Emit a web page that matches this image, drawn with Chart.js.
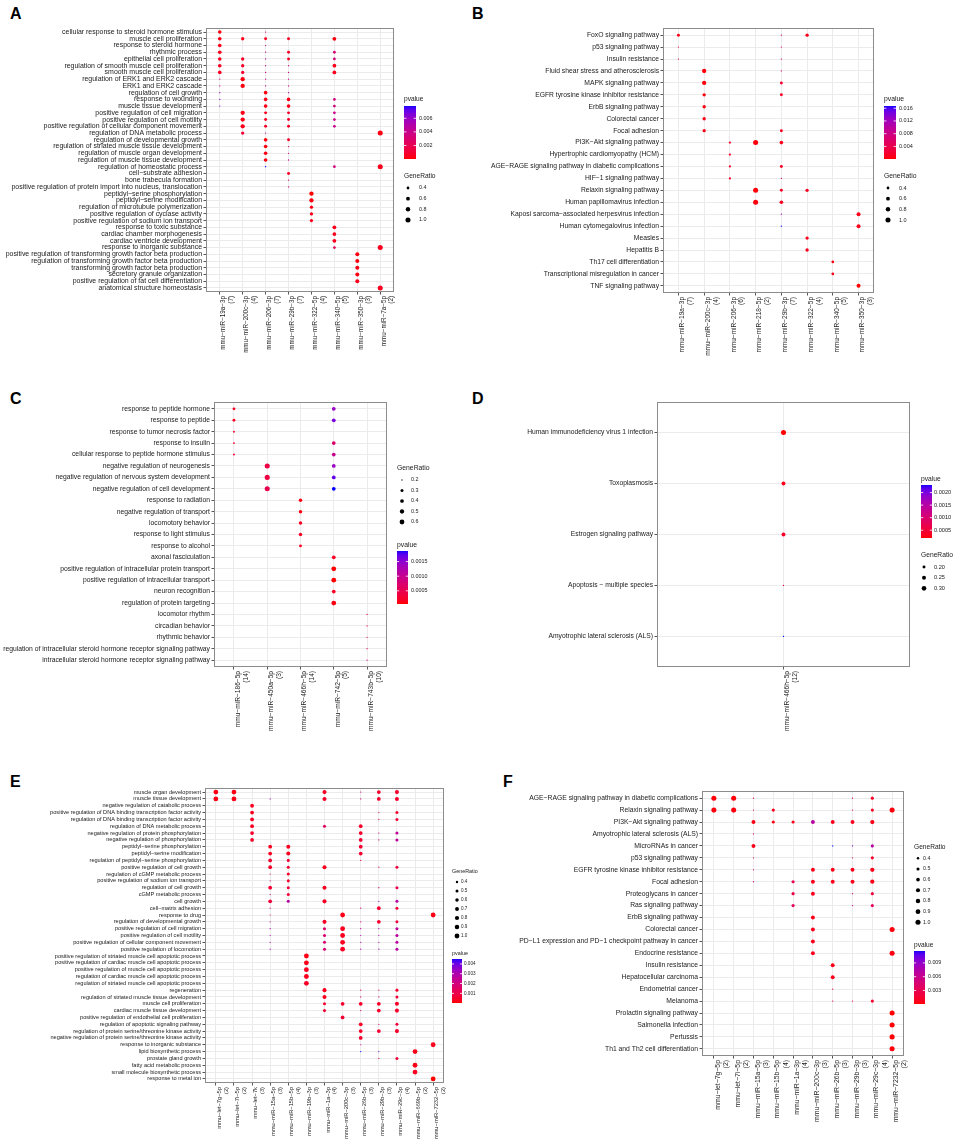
<!DOCTYPE html>
<html><head><meta charset="utf-8">
<script src="https://cdn.jsdelivr.net/npm/chart.js@4.4.1/dist/chart.umd.min.js"></script>
<style>
html,body{margin:0;padding:0;background:#fff;}
body{width:957px;height:1142px;position:relative;overflow:hidden;font-family:"Liberation Sans",Arial,sans-serif;}
canvas{position:absolute;}
.lbl{position:absolute;font-weight:bold;font-size:16px;line-height:16px;color:#000;}
</style></head><body>
<div class="lbl" style="left:10px;top:6px">A</div>
<div class="lbl" style="left:472px;top:6px">B</div>
<div class="lbl" style="left:10px;top:391px">C</div>
<div class="lbl" style="left:472px;top:391px">D</div>
<div class="lbl" style="left:10px;top:774px">E</div>
<div class="lbl" style="left:503px;top:774px">F</div>
<canvas id="cA"></canvas><canvas id="cB"></canvas><canvas id="cC"></canvas>
<canvas id="cD"></canvas><canvas id="cE"></canvas><canvas id="cF"></canvas>
<script>
// ---------------- DATA ----------------
// dots: [termIndex, miRNAIndex, GeneRatio, pvalue]
const A_terms = ["cellular response to steroid hormone stimulus","muscle cell proliferation","response to steroid hormone","rhythmic process","epithelial cell proliferation","regulation of smooth muscle cell proliferation","smooth muscle cell proliferation","regulation of ERK1 and ERK2 cascade","ERK1 and ERK2 cascade","regulation of cell growth","response to wounding","muscle tissue development","positive regulation of cell migration","positive regulation of cell motility","positive regulation of cellular component movement","regulation of DNA metabolic process","regulation of developmental growth","regulation of striated muscle tissue development","regulation of muscle organ development","regulation of muscle tissue development","regulation of homeostatic process","cell−substrate adhesion","bone trabecula formation","positive regulation of protein import into nucleus, translocation","peptidyl−serine phosphorylation","peptidyl−serine modification","regulation of microtubule polymerization","positive regulation of cyclase activity","positive regulation of sodium ion transport","response to toxic substance","cardiac chamber morphogenesis","cardiac ventricle development","response to inorganic substance","positive regulation of transforming growth factor beta production","regulation of transforming growth factor beta production","transforming growth factor beta production","secretory granule organization","positive regulation of fat cell differentiation","anatomical structure homeostasis"];
const A_mirnas = ["mmu−miR−19a−3p","mmu−miR−200c−3p","mmu−miR−206−3p","mmu−miR−29b−3p","mmu−miR−322−5p","mmu−miR−340−5p","mmu−miR−350−3p","mmu−miR−7a−5p"];
const A_counts = [7,4,7,7,4,5,3,2];
const A_dots = [
[0,0,0.571,0.0002],[0,2,0.286,0.0035],
[1,0,0.571,0.0003],[1,1,0.5,0.0004],[1,2,0.429,0.0006],[1,3,0.429,0.0005],[1,5,0.6,0.0002],
[2,0,0.571,0.0003],[2,2,0.286,0.004],
[3,0,0.571,0.0004],[3,2,0.286,0.0042],[3,3,0.429,0.0006],[3,5,0.4,0.0032],
[4,0,0.571,0.0005],[4,1,0.5,0.0007],[4,2,0.286,0.0045],[4,3,0.429,0.0007],[4,5,0.4,0.0035],
[5,0,0.571,0.0006],[5,1,0.5,0.0008],[5,2,0.286,0.0038],[5,3,0.286,0.0035],[5,5,0.6,0.0004],
[6,0,0.571,0.0007],[6,1,0.5,0.0009],[6,2,0.286,0.004],[6,3,0.286,0.0036],[6,5,0.6,0.0005],
[7,0,0.286,0.003],[7,1,0.75,0.0002],[7,2,0.286,0.004],[7,3,0.286,0.0038],
[8,0,0.286,0.0032],[8,1,0.75,0.0002],[8,2,0.286,0.0042],[8,3,0.286,0.004],
[9,0,0.286,0.0055],[9,2,0.571,0.0002],[9,3,0.286,0.005],
[10,0,0.286,0.006],[10,2,0.571,0.0003],[10,3,0.571,0.0004],[10,5,0.4,0.0035],
[11,0,0.286,0.0062],[11,2,0.571,0.0003],[11,3,0.571,0.0004],[11,5,0.4,0.0036],
[12,1,0.75,0.0003],[12,2,0.429,0.0006],[12,3,0.429,0.0007],[12,5,0.4,0.0038],
[13,1,0.75,0.0003],[13,2,0.429,0.0006],[13,3,0.429,0.0007],[13,5,0.4,0.0038],
[14,1,0.75,0.0004],[14,2,0.429,0.0007],[14,3,0.429,0.0008],[14,5,0.4,0.004],
[15,1,0.5,0.0012],[15,2,0.286,0.0045],[15,7,1.0,0.0003],
[16,2,0.571,0.0002],[16,3,0.429,0.0008],
[17,2,0.571,0.0002],[17,3,0.286,0.0035],
[18,2,0.571,0.0003],[18,3,0.286,0.0038],
[19,2,0.571,0.0003],[19,3,0.286,0.004],
[20,2,0.286,0.0078],[20,5,0.4,0.0036],[20,7,1.0,0.0004],
[21,3,0.429,0.0006],[22,3,0.286,0.003],[23,3,0.286,0.0032],
[24,4,0.75,0.00002],[25,4,0.75,0.0002],[26,4,0.5,0.0003],[27,4,0.5,0.0004],[28,4,0.5,0.0005],
[29,5,0.6,0.0003],[30,5,0.6,0.0004],[31,5,0.6,0.0005],
[32,5,0.4,0.0025],[32,7,1.0,0.0005],
[33,6,0.667,0.0002],[34,6,0.667,0.0002],[35,6,0.667,0.0003],[36,6,0.667,0.0003],[37,6,0.667,0.0004],
[38,7,1.0,0.0006]];
const A_pTicks = [0.002,0.004,0.006];
const A_sizeTicks = [0.4,0.6,0.8,1.0];

const B_terms = ["FoxO signaling pathway","p53 signaling pathway","Insulin resistance","Fluid shear stress and atherosclerosis","MAPK signaling pathway","EGFR tyrosine kinase inhibitor resistance","ErbB signaling pathway","Colorectal cancer","Focal adhesion","PI3K−Akt signaling pathway","Hypertrophic cardiomyopathy (HCM)","AGE−RAGE signaling pathway in diabetic complications","HIF−1 signaling pathway","Relaxin signaling pathway","Human papillomavirus infection","Kaposi sarcoma−associated herpesvirus infection","Human cytomegalovirus infection","Measles","Hepatitis B","Th17 cell differentiation","Transcriptional misregulation in cancer","TNF signaling pathway"];
const B_mirnas = ["mmu−miR−19a−3p","mmu−miR−200c−3p","mmu−miR−206−3p","mmu−miR−218−5p","mmu−miR−29b−3p","mmu−miR−322−5p","mmu−miR−340−5p","mmu−miR−350−3p"];
const B_counts = [7,4,6,2,7,4,5,3];
const B_dots = [
[0,0,0.429,0.0006],[0,4,0.286,0.0065],[0,5,0.5,0.0008],
[1,0,0.286,0.006],[1,4,0.286,0.0065],
[2,0,0.286,0.006],[2,4,0.286,0.007],
[3,1,0.75,0.0002],[3,4,0.286,0.0075],
[4,1,0.75,0.0004],[4,4,0.429,0.002],
[5,1,0.5,0.0005],[5,4,0.429,0.0015],
[6,1,0.5,0.0006],[7,1,0.5,0.0008],
[8,1,0.5,0.001],[8,4,0.429,0.0012],
[9,2,0.333,0.0015],[9,3,1.0,0.0003],[9,4,0.571,0.0008],
[10,2,0.333,0.0018],
[11,2,0.333,0.002],[11,4,0.429,0.0015],
[12,2,0.333,0.002],[12,4,0.286,0.0075],
[13,3,1.0,0.0002],[13,4,0.429,0.0015],[13,5,0.5,0.0012],
[14,3,1.0,0.0004],[14,4,0.571,0.0012],
[15,4,0.286,0.011],[15,7,0.667,0.0008],
[16,4,0.286,0.0167],[16,7,0.667,0.001],
[17,5,0.5,0.0008],[18,5,0.5,0.001],
[19,6,0.4,0.0006],[20,6,0.4,0.0012],
[21,7,0.667,0.00005]];
const B_pTicks = [0.004,0.008,0.012,0.016];
const B_sizeTicks = [0.4,0.6,0.8,1.0];

const C_terms = ["response to peptide hormone","response to peptide","response to tumor necrosis factor","response to insulin","cellular response to peptide hormone stimulus","negative regulation of neurogenesis","negative regulation of nervous system development","negative regulation of cell development","response to radiation","negative regulation of transport","locomotory behavior","response to light stimulus","response to alcohol","axonal fasciculation","positive regulation of intracellular protein transport","positive regulation of intracellular transport","neuron recognition","regulation of protein targeting","locomotor rhythm","circadian behavior","rhythmic behavior","regulation of intracellular steroid hormone receptor signaling pathway","intracellular steroid hormone receptor signaling pathway"];
const C_mirnas = ["mmu−miR−186−5p","mmu−miR−450a−5p","mmu−miR−466h−5p","mmu−miR−742−5p","mmu−miR−743b−5p"];
const C_counts = [14,3,14,5,10];
const C_dots = [
[0,0,0.286,0.0002],[0,3,0.4,0.0014],
[1,0,0.286,0.0002],[1,3,0.4,0.0016],
[2,0,0.214,0.0002],
[3,0,0.214,0.0003],[3,3,0.4,0.0007],
[4,0,0.214,0.0003],[4,3,0.4,0.001],
[5,1,0.667,0.0004],[5,3,0.4,0.0014],
[6,1,0.667,0.0004],[6,3,0.4,0.0017],
[7,1,0.667,0.0005],[7,3,0.4,0.00186],
[8,2,0.357,0.0001],[9,2,0.357,0.0001],[10,2,0.357,0.0002],[11,2,0.357,0.0002],[12,2,0.286,0.0002],
[13,3,0.4,0.0002],[14,3,0.6,0.00005],[15,3,0.6,0.00005],[16,3,0.4,0.0002],[17,3,0.6,0.0001],
[18,4,0.2,0.0006],[19,4,0.2,0.0006],[20,4,0.2,0.0007],[21,4,0.2,0.0007],[22,4,0.2,0.0008]];
const C_pTicks = [0.0005,0.0010,0.0015];
const C_sizeTicks = [0.2,0.3,0.4,0.5,0.6];

const D_terms = ["Human immunodeficiency virus 1 infection","Toxoplasmosis","Estrogen signaling pathway","Apoptosis − multiple species","Amyotrophic lateral sclerosis (ALS)"];
const D_mirnas = ["mmu−miR−466h−5p"];
const D_counts = [12];
const D_dots = [[0,0,0.333,0.00019],[1,0,0.25,0.0003],[2,0,0.25,0.0004],[3,0,0.167,0.0008],[4,0,0.167,0.0023]];
const D_pTicks = [0.0005,0.0010,0.0015,0.0020];
const D_sizeTicks = [0.20,0.25,0.30];

const E_terms = ["muscle organ development","muscle tissue development","negative regulation of catabolic process","positive regulation of DNA binding transcription factor activity","regulation of DNA binding transcription factor activity","regulation of DNA metabolic process","negative regulation of protein phosphorylation","negative regulation of phosphorylation","peptidyl−serine phosphorylation","peptidyl−serine modification","regulation of peptidyl−serine phosphorylation","positive regulation of cell growth","regulation of cGMP metabolic process","positive regulation of sodium ion transport","regulation of cell growth","cGMP metabolic process","cell growth","cell−matrix adhesion","response to drug","regulation of developmental growth","positive regulation of cell migration","positive regulation of cell motility","positive regulation of cellular component movement","positive regulation of locomotion","positive regulation of striated muscle cell apoptotic process","positive regulation of cardiac muscle cell apoptotic process","positive regulation of muscle cell apoptotic process","regulation of cardiac muscle cell apoptotic process","regulation of striated muscle cell apoptotic process","regeneration","regulation of striated muscle tissue development","muscle cell proliferation","cardiac muscle tissue development","positive regulation of endothelial cell proliferation","regulation of apoptotic signaling pathway","regulation of protein serine/threonine kinase activity","negative regulation of protein serine/threonine kinase activity","response to inorganic substance","lipid biosynthetic process","prostate gland growth","fatty acid metabolic process","small molecule biosynthetic process","response to metal ion"];
const E_mirnas = ["mmu−let−7g−5p","mmu−let−7i−5p","mmu−let−7k","mmu−miR−15a−5p","mmu−miR−15b−5p","mmu−miR−19b−3p","mmu−miR−1a−3p","mmu−miR−200c−3p","mmu−miR−26b−5p","mmu−miR−29b−3p","mmu−miR−29c−3p","mmu−miR−669b−5p","mmu−miR−7232−5p"];
const E_counts = [2,2,3,3,4,3,4,3,3,3,4,2,2];
const E_dots = [
[0,0,1,0.0002],[0,1,1,0.0002],[0,6,0.75,0.0004],[0,8,0.333,0.002],[0,9,0.667,0.0005],[0,10,0.75,0.0005],
[1,0,1,0.0002],[1,1,1,0.0002],[1,3,0.333,0.003],[1,6,0.75,0.0004],[1,8,0.333,0.002],[1,9,0.667,0.0005],[1,10,0.75,0.0005],
[2,2,0.667,0.0003],
[3,2,0.667,0.0003],[3,9,0.333,0.0016],[3,10,0.5,0.0006],
[4,2,0.667,0.0004],[4,9,0.333,0.0016],[4,10,0.5,0.0007],
[5,2,0.667,0.0004],[5,6,0.5,0.0015],[5,8,0.667,0.0005],
[6,2,0.667,0.0005],[6,8,0.667,0.0005],[6,9,0.333,0.002],[6,10,0.5,0.0025],
[7,2,0.667,0.0005],[7,8,0.667,0.0006],[7,9,0.333,0.002],[7,10,0.5,0.0026],
[8,3,0.667,0.0003],[8,4,0.75,0.0003],[8,8,0.667,0.0006],
[9,3,0.667,0.0003],[9,4,0.75,0.0003],[9,8,0.667,0.0006],
[10,3,0.667,0.0006],[10,4,0.5,0.0006],[10,8,0.333,0.0015],
[11,3,0.667,0.0005],[11,4,0.5,0.0005],[11,6,0.75,0.0003],[11,9,0.333,0.0017],[11,10,0.5,0.0008],
[12,3,0.333,0.0015],[12,4,0.5,0.0005],
[13,3,0.333,0.0015],[13,4,0.5,0.0006],
[14,3,0.667,0.0006],[14,4,0.5,0.0007],[14,6,0.75,0.0003],[14,9,0.333,0.0018],[14,10,0.5,0.001],
[15,3,0.333,0.0016],[15,4,0.5,0.0007],
[16,3,0.667,0.0008],[16,4,0.5,0.0028],[16,6,0.75,0.0004],[16,9,0.333,0.0035],[16,10,0.5,0.0028],
[17,3,0.333,0.0018],[17,8,0.333,0.0018],[17,9,0.667,0.0006],[17,10,0.5,0.0007],
[18,3,0.333,0.0018],[18,7,1,0.0002],[18,12,1,0.0002],
[19,3,0.333,0.0019],[19,6,0.75,0.0004],[19,8,0.333,0.0019],[19,9,0.667,0.0006],[19,10,0.5,0.0008],
[20,3,0.333,0.003],[20,6,0.5,0.0017],[20,7,1,0.0003],[20,8,0.333,0.0028],[20,9,0.333,0.0028],[20,10,0.5,0.0026],
[21,3,0.333,0.003],[21,6,0.5,0.0017],[21,7,1,0.0003],[21,8,0.333,0.0028],[21,9,0.333,0.0028],[21,10,0.5,0.0026],
[22,3,0.333,0.003],[22,6,0.5,0.0018],[22,7,1,0.0003],[22,8,0.333,0.0029],[22,9,0.333,0.0029],[22,10,0.5,0.0027],
[23,3,0.333,0.003],[23,6,0.5,0.0018],[23,7,1,0.0004],[23,8,0.333,0.0029],[23,9,0.333,0.0029],[23,10,0.5,0.0027],
[24,5,1,0.0002],[25,5,1,0.0002],[26,5,1,0.0003],[27,5,1,0.0003],[28,5,1,0.0004],
[29,6,0.75,0.0003],[29,8,0.333,0.0016],[29,9,0.333,0.0016],[29,10,0.5,0.0006],
[30,6,0.75,0.0003],[30,8,0.333,0.0017],[30,9,0.333,0.0017],[30,10,0.5,0.0007],
[31,6,0.5,0.0006],[31,7,0.667,0.0005],[31,8,0.667,0.0005],[31,9,0.667,0.0004],[31,10,0.75,0.0004],
[32,6,0.5,0.0006],[32,8,0.333,0.0018],[32,9,0.667,0.0005],[32,10,0.75,0.0005],
[33,7,0.667,0.0006],
[34,8,0.667,0.0004],[34,9,0.333,0.0018],[34,10,0.5,0.0007],
[35,8,0.667,0.0004],[35,9,0.667,0.0006],[35,10,0.75,0.0005],
[36,8,0.667,0.0005],
[37,8,0.333,0.0022],[37,12,1,0.0003],
[38,8,0.333,0.0045],[38,9,0.333,0.004],[38,11,1,0.0002],
[39,9,0.333,0.0016],[39,10,0.5,0.0008],
[40,11,1,0.0002],[41,11,1,0.0003],[42,12,1,0.00002]];
const E_pTicks = [0.001,0.002,0.003,0.004];
const E_sizeTicks = [0.4,0.5,0.6,0.7,0.8,0.9,1.0];

const F_terms = ["AGE−RAGE signaling pathway in diabetic complications","Relaxin signaling pathway","PI3K−Akt signaling pathway","Amyotrophic lateral sclerosis (ALS)","MicroRNAs in cancer","p53 signaling pathway","EGFR tyrosine kinase inhibitor resistance","Focal adhesion","Proteoglycans in cancer","Ras signaling pathway","ErbB signaling pathway","Colorectal cancer","PD−L1 expression and PD−1 checkpoint pathway in cancer","Endocrine resistance","Insulin resistance","Hepatocellular carcinoma","Endometrial cancer","Melanoma","Prolactin signaling pathway","Salmonella infection","Pertussis","Th1 and Th2 cell differentiation"];
const F_mirnas = ["mmu−let−7g−5p","mmu−let−7i−5p","mmu−miR−15a−5p","mmu−miR−15b−5p","mmu−miR−1a−3p","mmu−miR−200c−3p","mmu−miR−26b−5p","mmu−miR−29b−3p","mmu−miR−29c−3p","mmu−miR−7232−5p"];
const F_counts = [2,2,3,4,4,3,3,3,4,2];
const F_dots = [
[0,0,1,0.0002],[0,1,1,0.0002],[0,2,0.333,0.004],[0,7,0.333,0.004],[0,8,0.5,0.001],
[1,0,1,0.0003],[1,1,1,0.0003],[1,2,0.333,0.0042],[1,3,0.5,0.0008],[1,7,0.333,0.0042],[1,8,0.5,0.001],[1,9,1,0.0003],
[2,2,0.667,0.0005],[2,3,0.5,0.0005],[2,4,0.5,0.0006],[2,5,0.667,0.007],[2,6,0.667,0.0008],[2,7,0.667,0.0008],[2,8,0.75,0.0006],
[3,2,0.333,0.0045],
[4,2,0.667,0.0006],[4,6,0.333,0.0116],[4,7,0.333,0.0095],[4,8,0.5,0.0072],
[5,2,0.333,0.0045],[5,7,0.333,0.0045],[5,8,0.5,0.0012],
[6,2,0.333,0.0046],[6,5,0.667,0.0006],[6,6,0.667,0.0006],[6,7,0.667,0.0007],[6,8,0.75,0.0006],
[7,2,0.333,0.0048],[7,4,0.5,0.0028],[7,5,0.667,0.0006],[7,6,0.667,0.0007],[7,7,0.667,0.0007],[7,8,0.75,0.0006],
[8,4,0.5,0.0022],[8,5,0.667,0.0007],[8,7,0.333,0.0048],[8,8,0.5,0.0022],
[9,4,0.5,0.0035],[9,7,0.333,0.005],[9,8,0.5,0.0035],
[10,5,0.667,0.0006],
[11,5,0.667,0.0007],[11,9,1,0.0003],
[12,5,0.667,0.0008],
[13,5,0.667,0.0008],[13,9,1,0.0004],
[14,6,0.667,0.0006],[15,6,0.667,0.0007],[16,6,0.333,0.0025],
[17,6,0.333,0.003],[17,7,0.333,0.003],[17,8,0.5,0.0012],
[18,9,1,0.00005],[19,9,1,0.0001],[20,9,1,0.0001],[21,9,1,0.0002]];
const F_pTicks = [0.003,0.006,0.009];
const F_sizeTicks = [0.4,0.5,0.6,0.7,0.8,0.9,1.0];

// ---------------- STYLE / LAYOUT ----------------
const FONT = '"Liberation Sans", Arial, Helvetica, sans-serif';
Chart.defaults.font.family = FONT;

function srgb2lin(c){c/=255;return c<=0.04045?c/12.92:Math.pow((c+0.055)/1.055,2.4);}
function lin2srgb(c){c=c<=0.0031308?12.92*c:1.055*Math.pow(c,1/2.4)-0.055;return Math.round(Math.max(0,Math.min(1,c))*255);}
function toLab(rgb){const [R,G,B]=rgb.map(srgb2lin);
  const X=(0.4124*R+0.3576*G+0.1805*B)/0.95047, Y=0.2126*R+0.7152*G+0.0722*B, Z=(0.0193*R+0.1192*G+0.9505*B)/1.08883;
  const f=t=>t>0.008856?Math.cbrt(t):7.787*t+16/116;
  return [116*f(Y)-16,500*(f(X)-f(Y)),200*(f(Y)-f(Z))];}
function fromLab(L,a,b){const fy=(L+16)/116,fx=fy+a/500,fz=fy-b/200;
  const g=t=>t>0.206893?t*t*t:(t-16/116)/7.787;
  const X=g(fx)*0.95047,Y=g(fy),Z=g(fz)*1.08883;
  const R=3.2406*X-1.5372*Y-0.4986*Z,G=-0.9689*X+1.8758*Y+0.0415*Z,B=0.0557*X-0.2040*Y+1.0570*Z;
  return 'rgb('+lin2srgb(R)+','+lin2srgb(G)+','+lin2srgb(B)+')';}
const LAB_LO = toLab([255,0,0]), LAB_HI = toLab([0,0,255]);
function pColor(t){t=Math.max(0,Math.min(1,t));
  return fromLab(LAB_LO[0]+(LAB_HI[0]-LAB_LO[0])*t,LAB_LO[1]+(LAB_HI[1]-LAB_LO[1])*t,LAB_LO[2]+(LAB_HI[2]-LAB_LO[2])*t);}
function fitFont(text,w){const c=document.createElement('canvas').getContext('2d');c.font='20px '+FONT;return 20*w/c.measureText(text).width;}

const panels = [
 {id:'cA',terms:A_terms,mirnas:A_mirnas,counts:A_counts,dots:A_dots,pTicks:A_pTicks,pDig:3,sTicks:A_sizeTicks,sDig:1,
  box:[0,0,478,365],plot:[206,28,394,292],yRef:A_terms[23],yW:191,xRef:A_mirnas[1],xW:57,k:0.38,
  leg:{x:404,pT:99,bT:106,bB:159,bW:12,pLX:419,sT:176,s0:188,sD:10.67,dX:408,sLX:419,tF:6.6,lF:5.4}},
 {id:'cB',terms:B_terms,mirnas:B_mirnas,counts:B_counts,dots:B_dots,pTicks:B_pTicks,pDig:3,sTicks:B_sizeTicks,sDig:1,
  box:[478,0,479,365],plot:[663,28,874,293],yRef:B_terms[11],yW:168,xRef:B_mirnas[1],xW:59,k:0.38,
  leg:{x:884,pT:99,bT:106,bB:159,bW:12,pLX:899,sT:176,s0:188,sD:10.67,dX:888,sLX:899,tF:6.8,lF:5.5}},
 {id:'cC',terms:C_terms,mirnas:C_mirnas,counts:C_counts,dots:C_dots,pTicks:C_pTicks,pDig:4,sTicks:C_sizeTicks,sDig:1,
  box:[0,365,478,370],plot:[214,402,387,667],yRef:C_terms[21],yW:207,xRef:C_mirnas[1],xW:60,k:0.38,
  leg:{x:397,pT:545,bT:551,bB:604,bW:11,pLX:411,sT:468,s0:480,sD:10.5,dX:402,sLX:411,tF:6.8,lF:5.4}},
 {id:'cD',terms:D_terms,mirnas:D_mirnas,counts:D_counts,dots:D_dots,pTicks:D_pTicks,pDig:4,sTicks:D_sizeTicks,sDig:2,
  box:[478,365,479,370],plot:[657,402,910,667],yRef:D_terms[0],yW:126,xRef:D_mirnas[0],xW:60,k:0.38,
  leg:{x:921,pT:479,bT:485,bB:538,bW:11,pLX:934,sT:555,s0:567,sD:10.67,dX:924,sLX:934,tF:6.7,lF:5.6}},
 {id:'cE',terms:E_terms,mirnas:E_mirnas,counts:E_counts,dots:E_dots,pTicks:E_pTicks,pDig:3,sTicks:E_sizeTicks,sDig:1,
  box:[0,735,478,407],plot:[205,788,444,1083],yRef:E_terms[3],yW:151,xRef:E_mirnas[7],xW:52,k:0.36,
  leg:{x:452,pT:954,bT:959,bB:1003,bW:10,pLX:464,sT:872,s0:882,sD:9,dX:457,sLX:461,tF:5.4,lF:4.6}},
 {id:'cF',terms:F_terms,mirnas:F_mirnas,counts:F_counts,dots:F_dots,pTicks:F_pTicks,pDig:3,sTicks:F_sizeTicks,sDig:1,
  box:[478,735,479,407],plot:[702,791,904,1056],yRef:F_terms[12],yW:179,xRef:F_mirnas[5],xW:62,k:0.38,
  leg:{x:914,pT:945,bT:951,bB:1004,bW:11,pLX:928,sT:847,s0:858.3,sD:10.67,dX:918,sLX:923,tF:6.6,lF:5.3}}
];

function makePanel(P){
  const [bx,by,bw,bh]=P.box, [pl,pt,pr,pb]=P.plot;
  const cv=document.getElementById(P.id);
  cv.width=bw;cv.height=bh;cv.style.left=bx+'px';cv.style.top=by+'px';cv.style.width=bw+'px';cv.style.height=bh+'px';
  const yFont=fitFont(P.yRef,P.yW), xFont=fitFont(P.xRef,P.xW);
  const ratios=P.dots.map(d=>d[2]), pv=P.dots.map(d=>d[3]);
  const rLo=Math.min(...ratios), rHi=Math.max(...ratios), pLo=Math.min(...pv), pHi=Math.max(...pv);
  const rad=v=>P.k*(1+5*Math.sqrt(Math.max(0,(v-rLo)/(rHi-rLo))))+0.25;
  const data=P.dots.map(d=>({x:d[1],y:d[0],r:rad(d[2]),c:pColor((d[3]-pLo)/(pHi-pLo))}));
  const L=P.leg;
  new Chart(cv,{
    type:'bubble',
    data:{datasets:[{data:data,backgroundColor:c=>(c.raw?c.raw.c:'#f00'),borderWidth:0,hoverBorderWidth:0}]},
    options:{
      responsive:false,animation:false,events:[],
      layout:{padding:{left:0,top:pt-by,right:bx+bw-pr,bottom:0}},
      plugins:{legend:{display:false},tooltip:{enabled:false}},
      scales:{
        x:{type:'linear',min:-0.6,max:P.mirnas.length-0.4,
          afterBuildTicks:s=>{s.ticks=P.mirnas.map((_,i)=>({value:i}));},
          afterFit:s=>{s.height=by+bh-pb;},
          border:{display:false},
          grid:{color:'#ebebeb',lineWidth:1,drawTicks:true,tickLength:2.5,tickColor:'#555'},
          ticks:{autoSkip:false,minRotation:90,maxRotation:90,padding:1.5,labelOffset:xFont*0.6,color:'#1a1a1a',
            font:{family:FONT,size:xFont,lineHeight:1.2},
            callback:v=>[P.mirnas[v],'('+P.counts[v]+')']}},
        y:{type:'linear',reverse:true,min:-0.6,max:P.terms.length-0.4,
          afterBuildTicks:s=>{s.ticks=P.terms.map((_,i)=>({value:i}));},
          afterFit:s=>{s.width=pl-bx;},
          border:{display:false},
          grid:{color:'#ebebeb',lineWidth:1,drawTicks:true,tickLength:2.5,tickColor:'#555'},
          ticks:{autoSkip:false,padding:1.5,color:'#1a1a1a',font:{family:FONT,size:yFont},
            callback:v=>P.terms[v]}}
      }
    },
    plugins:[{id:'deco',afterDraw(chart){
      const c=chart.ctx,a=chart.chartArea;
      c.save();
      c.strokeStyle='#8c8c8c';c.lineWidth=1;
      c.strokeRect(Math.round(a.left)+0.5,Math.round(a.top)+0.5,Math.round(a.right-a.left)-1,Math.round(a.bottom-a.top)-1);
      c.textBaseline='middle';c.textAlign='left';c.fillStyle='#1a1a1a';
      c.font=L.tF+'px '+FONT;
      c.fillText('pvalue',L.x-bx,L.pT-by);
      c.fillText('GeneRatio',L.x-bx,L.sT-by);
      const t0=L.bT-by,t1=L.bB-by,x0=L.x-bx;
      for(let y=t0;y<t1;y++){c.fillStyle=pColor(1-((y+0.5)-t0)/(t1-t0));c.fillRect(x0,y,L.bW,1);}
      c.font=L.lF+'px '+FONT;
      P.pTicks.forEach(v=>{const t=(v-pLo)/(pHi-pLo);if(t<0||t>1)return;const y=t1-t*(t1-t0);
        c.strokeStyle='#fff';c.lineWidth=0.8;c.beginPath();c.moveTo(x0,y);c.lineTo(x0+L.bW*0.2,y);
        c.moveTo(x0+L.bW*0.8,y);c.lineTo(x0+L.bW,y);c.stroke();
        c.fillStyle='#1a1a1a';c.fillText(v.toFixed(P.pDig),L.pLX-bx,y);});
      P.sTicks.forEach((v,i)=>{const y=L.s0+i*L.sD-by;
        c.fillStyle='#000';c.beginPath();c.arc(L.dX-bx,y,rad(v),0,2*Math.PI);c.fill();
        c.fillStyle='#1a1a1a';c.fillText(v.toFixed(P.sDig),L.sLX-bx,y);});
      c.restore();
    }}]
  });
}
panels.forEach(makePanel);
</script>
</body></html>
